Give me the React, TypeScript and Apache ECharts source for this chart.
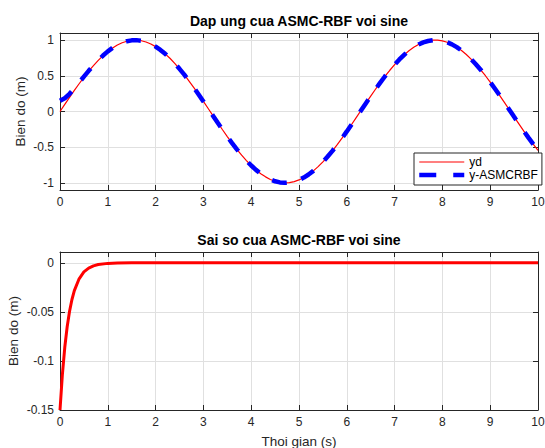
import React, { useEffect, useRef } from "react";
import * as echarts from "echarts";

const topTitle = "Dap ung cua ASMC-RBF voi sine";
const bottomTitle = "Sai so cua ASMC-RBF voi sine";
const yName = "Bien do (m)";
const xName = "Thoi gian (s)";
const legendNames = ["yd", "y-ASMCRBF"];

const timeS = [
  0.0, 0.1, 0.2, 0.3, 0.4, 0.5, 0.6, 0.7, 0.8, 0.9,
  1.0, 1.1, 1.2, 1.3, 1.4, 1.5, 1.6, 1.7, 1.8, 1.9,
  2.0, 2.1, 2.2, 2.3, 2.4, 2.5, 2.6, 2.7, 2.8, 2.9,
  3.0, 3.1, 3.2, 3.3, 3.4, 3.5, 3.6, 3.7, 3.8, 3.9,
  4.0, 4.1, 4.2, 4.3, 4.4, 4.5, 4.6, 4.7, 4.8, 4.9,
  5.0, 5.1, 5.2, 5.3, 5.4, 5.5, 5.6, 5.7, 5.8, 5.9,
  6.0, 6.1, 6.2, 6.3, 6.4, 6.5, 6.6, 6.7, 6.8, 6.9,
  7.0, 7.1, 7.2, 7.3, 7.4, 7.5, 7.6, 7.7, 7.8, 7.9,
  8.0, 8.1, 8.2, 8.3, 8.4, 8.5, 8.6, 8.7, 8.8, 8.9,
  9.0, 9.1, 9.2, 9.3, 9.4, 9.5, 9.6, 9.7, 9.8, 9.9,
  10.0,
];

const ydValues = [
  0.0, 0.1, 0.199, 0.296, 0.389, 0.479, 0.565, 0.644, 0.717, 0.783,
  0.841, 0.891, 0.932, 0.964, 0.985, 0.997, 1.0, 0.992, 0.974, 0.946,
  0.909, 0.863, 0.808, 0.746, 0.675, 0.598, 0.516, 0.427, 0.335, 0.239,
  0.141, 0.042, -0.058, -0.158, -0.256, -0.351, -0.443, -0.53, -0.612, -0.688,
  -0.757, -0.818, -0.872, -0.916, -0.952, -0.978, -0.994, -1.0, -0.996, -0.982,
  -0.959, -0.926, -0.883, -0.832, -0.773, -0.706, -0.631, -0.551, -0.465, -0.374,
  -0.279, -0.182, -0.083, 0.017, 0.117, 0.215, 0.312, 0.405, 0.494, 0.578,
  0.657, 0.729, 0.794, 0.851, 0.899, 0.938, 0.968, 0.988, 0.999, 0.999,
  0.989, 0.97, 0.941, 0.902, 0.855, 0.798, 0.734, 0.663, 0.585, 0.501,
  0.412, 0.319, 0.223, 0.124, 0.025, -0.075, -0.174, -0.272, -0.366, -0.458,
  -0.544,
];

const yAsmcValues = [
  0.15, 0.186, 0.248, 0.324, 0.406, 0.489, 0.57, 0.647, 0.719, 0.784,
  0.842, 0.892, 0.932, 0.964, 0.985, 0.997, 1.0, 0.992, 0.974, 0.946,
  0.909, 0.863, 0.808, 0.746, 0.675, 0.598, 0.516, 0.427, 0.335, 0.239,
  0.141, 0.042, -0.058, -0.158, -0.256, -0.351, -0.443, -0.53, -0.612, -0.688,
  -0.757, -0.818, -0.872, -0.916, -0.952, -0.978, -0.994, -1.0, -0.996, -0.982,
  -0.959, -0.926, -0.883, -0.832, -0.773, -0.706, -0.631, -0.551, -0.465, -0.374,
  -0.279, -0.182, -0.083, 0.017, 0.117, 0.215, 0.312, 0.405, 0.494, 0.578,
  0.657, 0.729, 0.794, 0.851, 0.899, 0.938, 0.968, 0.988, 0.999, 0.999,
  0.989, 0.97, 0.941, 0.902, 0.855, 0.798, 0.734, 0.663, 0.585, 0.501,
  0.412, 0.319, 0.223, 0.124, 0.025, -0.075, -0.174, -0.272, -0.366, -0.458,
  -0.544,
];

const errTime = [0, 0.05, 0.1, 0.15, 0.2, 0.25, 0.3, 0.4, 0.5, 0.6, 0.7, 0.8, 1.0, 1.2, 1.5, 2.0, 10.0];
const errValues = [
  -0.15, -0.1136, -0.0861, -0.0652, -0.0494, -0.0374, -0.0283, -0.0163, -0.0093,
  -0.0054, -0.0031, -0.0018, -0.0006, -0.0002, 0.0, 0.0, 0.0,
];

const FONT = "'Liberation Sans', Arial, Helvetica, sans-serif";
const AX = "#262626";
const GRID = "#e0e0e0";

function pairs(xs: number[], ys: number[]) {
  return xs.map((x, i) => [x, ys[i]]);
}

export default function App() {
  const ref = useRef<HTMLDivElement>(null);
  useEffect(() => {
    if (!ref.current) return;
    const chart = echarts.init(ref.current, undefined, { renderer: "svg" });

    const mainX = (grid: number) => ({
      type: "value",
      gridIndex: grid,
      min: 0,
      max: 10,
      interval: 1,
      position: "bottom",
      axisLine: { show: true, onZero: false, lineStyle: { color: AX, width: 1 } },
      axisTick: { show: true, inside: true, length: 5, lineStyle: { color: AX } },
      axisLabel: { show: true, color: AX, fontSize: 12, fontFamily: FONT, margin: 6 },
      splitLine: { show: true, lineStyle: { color: GRID, width: 1 } },
    });
    const mirrorX = (grid: number) => ({
      type: "value",
      gridIndex: grid,
      min: 0,
      max: 10,
      interval: 1,
      position: "top",
      axisLine: { show: true, onZero: false, lineStyle: { color: AX, width: 1 } },
      axisTick: { show: true, inside: true, length: 5, lineStyle: { color: AX } },
      axisLabel: { show: false },
      splitLine: { show: false },
    });

    const option: any = {
      animation: false,
      backgroundColor: "#ffffff",
      title: [
        {
          text: topTitle,
          left: 299,
          top: 14,
          textAlign: "center",
          padding: 0,
          textStyle: { fontSize: 14, fontWeight: "bold", color: "#000", fontFamily: FONT },
        },
        {
          text: bottomTitle,
          left: 299,
          top: 233,
          textAlign: "center",
          padding: 0,
          textStyle: { fontSize: 14, fontWeight: "bold", color: "#000", fontFamily: FONT },
        },
      ],
      grid: [
        { left: 60, top: 33, right: 7, height: 157, show: false, containLabel: false, outerBoundsMode: "none" },
        { left: 60, top: 252, right: 7, height: 158, show: false, containLabel: false, outerBoundsMode: "none" },
      ],
      legend: {
        data: [
          { name: legendNames[0], lineStyle: { width: 1.2, color: "#ff0000" } },
          { name: legendNames[1], lineStyle: { width: 4.5, color: "#0000ff", type: [17, 17] } },
        ],
        orient: "vertical",
        left: 414,
        top: 153,
        backgroundColor: "#ffffff",
        borderColor: AX,
        borderWidth: 1,
        borderRadius: 0,
        padding: [3, 4, 4, 3],
        itemGap: 1,
        itemWidth: 45,
        itemHeight: 14,
        itemStyle: { opacity: 0 },
        textStyle: { fontSize: 12, color: "#000", fontFamily: FONT },
      },
      xAxis: [
        mainX(0),
        mirrorX(0),
        {
          ...mainX(1),
          name: xName,
          nameLocation: "middle",
          nameGap: 24,
          nameMoveOverlap: false,
          nameTextStyle: { fontSize: 13.5, color: AX, fontFamily: FONT },
        },
        mirrorX(1),
      ],
      yAxis: [
        {
          type: "value",
          gridIndex: 0,
          min: -1.1,
          max: 1.1,
          splitNumber: 4,
          position: "left",
          name: yName,
          nameLocation: "middle",
          nameGap: 33,
          nameMoveOverlap: false,
          nameTextStyle: { fontSize: 13.5, color: AX, fontFamily: FONT },
          axisLine: { show: true, onZero: false, lineStyle: { color: AX, width: 1 } },
          axisTick: { show: true, inside: true, length: 5, lineStyle: { color: AX } },
          axisLabel: {
            show: true,
            color: AX,
            fontSize: 12,
            fontFamily: FONT,
            margin: 6,
            showMinLabel: false,
            showMaxLabel: false,
          },
          splitLine: { show: true, lineStyle: { color: GRID, width: 1 } },
        },
        {
          type: "value",
          gridIndex: 0,
          min: -1.1,
          max: 1.1,
          splitNumber: 4,
          position: "right",
          axisLine: { show: true, onZero: false, lineStyle: { color: AX, width: 1 } },
          axisTick: { show: true, inside: true, length: 5, lineStyle: { color: AX } },
          axisLabel: { show: false },
          splitLine: { show: false },
        },
        {
          type: "value",
          gridIndex: 1,
          min: -0.15,
          max: 0.011,
          interval: 0.05,
          position: "left",
          name: yName,
          nameLocation: "middle",
          nameGap: 40,
          nameMoveOverlap: false,
          nameTextStyle: { fontSize: 13.5, color: AX, fontFamily: FONT },
          axisLine: { show: true, onZero: false, lineStyle: { color: AX, width: 1 } },
          axisTick: { show: true, inside: true, length: 5, lineStyle: { color: AX } },
          axisLabel: {
            show: true,
            color: AX,
            fontSize: 12,
            fontFamily: FONT,
            margin: 6,
            showMaxLabel: false,
            formatter: (v: number) => {
              const r = Math.round(v * 100) / 100;
              return r === 0 ? "0" : String(r);
            },
          },
          splitLine: { show: true, lineStyle: { color: GRID, width: 1 } },
        },
        {
          type: "value",
          gridIndex: 1,
          min: -0.15,
          max: 0.011,
          interval: 0.05,
          position: "right",
          axisLine: { show: true, onZero: false, lineStyle: { color: AX, width: 1 } },
          axisTick: { show: true, inside: true, length: 5, lineStyle: { color: AX } },
          axisLabel: { show: false },
          splitLine: { show: false },
        },
      ],
      series: [
        {
          name: "yd",
          type: "line",
          xAxisIndex: 0,
          yAxisIndex: 0,
          data: pairs(timeS, ydValues),
          symbol: "none",
          smooth: false,
          lineStyle: { color: "#ff0000", width: 1.2 },
          itemStyle: { color: "#ff0000" },
          z: 2,
        },
        {
          name: "y-ASMCRBF",
          type: "line",
          xAxisIndex: 0,
          yAxisIndex: 0,
          data: pairs(timeS, yAsmcValues),
          symbol: "none",
          smooth: false,
          lineStyle: { color: "#0000ff", width: 4.5, type: [15, 15] },
          itemStyle: { color: "#0000ff" },
          z: 3,
        },
        {
          name: "error",
          type: "line",
          xAxisIndex: 2,
          yAxisIndex: 2,
          data: pairs(errTime, errValues),
          symbol: "none",
          smooth: false,
          lineStyle: { color: "#ff0000", width: 3 },
          itemStyle: { color: "#ff0000" },
          z: 2,
        },
      ],
    };

    chart.setOption(option);
    return () => {
      chart.dispose();
    };
  }, []);

  return (
    <div
      ref={ref}
      style={{ position: "fixed", left: 0, top: 0, width: 545, height: 448, background: "#fff" }}
    />
  );
}
